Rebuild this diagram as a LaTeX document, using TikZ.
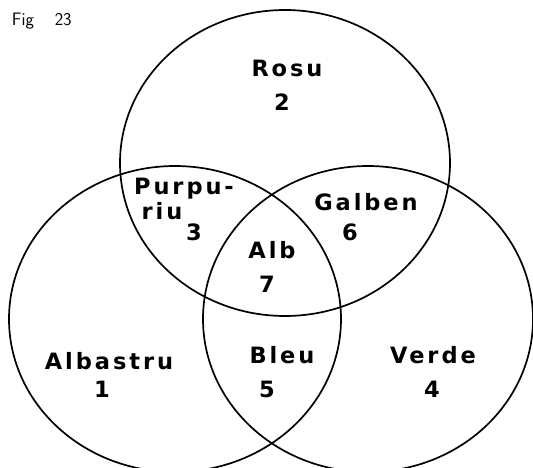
\documentclass[tikz,border=0pt]{standalone}
\usepackage{fontspec}
\newfontfamily\vennFont[LetterSpace=13]{DejaVu Sans}
\definecolor{vennInk}{HTML}{000000}
\tikzset{
  venn diagram/.style={
    x=1pt, y=-1pt, line width=1.7pt,
    every node/.style={font=\vennFont\bfseries\fontsize{22.5}{27}\selectfont,
      text=vennInk, inner sep=0pt, outer sep=0pt, anchor=base}
  },
  venn set/.style={draw=vennInk, line width=1.7pt},
  venn caption/.style={font=\sffamily\fontsize{18}{21}\selectfont,
    anchor=base west}
}

\begin{document}
\begin{tikzpicture}[venn diagram]
    \useasboundingbox (0,0) rectangle (533,468);
    \draw[venn set] (285,163) ellipse [x radius=165, y radius=153];
    \draw[venn set] (175,319) ellipse [x radius=166, y radius=153];
    \draw[venn set] (368,319) ellipse [x radius=165, y radius=153];
    \node[venn caption] (caption) at (12,25.5) {Fig\hspace{1.15em}23};
    \node (rosu) at (287,76.5) {Rosu};
    \node (rosuNr) at (282,110.5) {2};
    \node (purpu) at (184,194.5) {Purpu-};
    \node (riu) at (162,219) {riu};
    \node (purpuNr) at (194,240) {3};
    \node (galben) at (366,211) {Galben};
    \node (galbenNr) at (350,240) {6};
    \node (alb) at (272,258.5) {Alb};
    \node (albNr) at (267,292.5) {7};
    \node (albastru) at (109,369) {Albastru};
    \node (albastruNr) at (102,397) {1};
    \node (bleu) at (282,363) {Bleu};
    \node (bleuNr) at (267,397) {5};
    \node (verde) at (433,363) {Verde};
    \node (verdeNr) at (432,397) {4};
  \end{tikzpicture}
\end{document}
